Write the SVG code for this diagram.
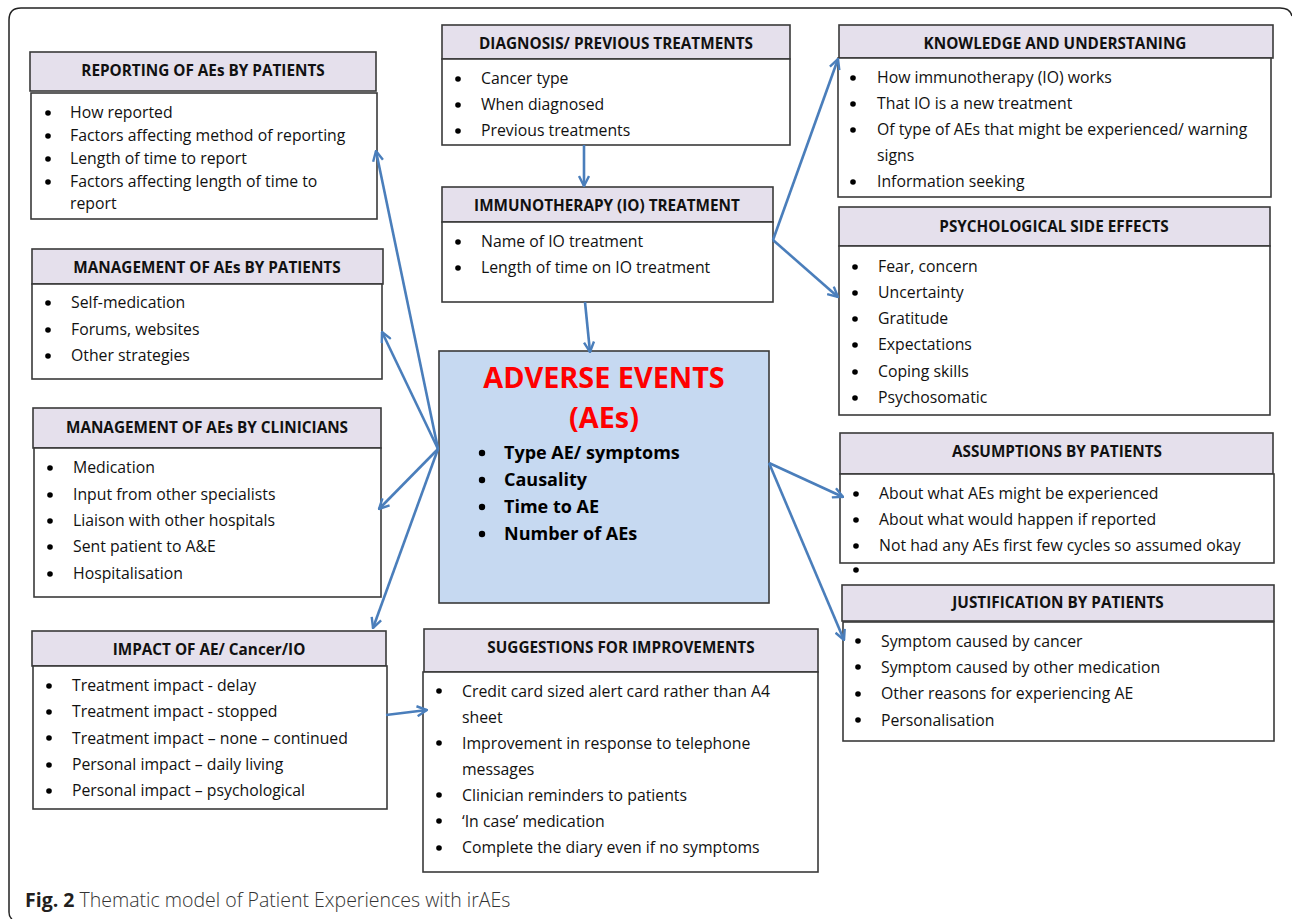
<svg xmlns="http://www.w3.org/2000/svg" width="1292" height="919" viewBox="0 0 1292 919">
<style>
.hd{fill:#e5e0ec;stroke:#3a3a3a;stroke-width:1.6}
.bd{fill:#ffffff;stroke:#3a3a3a;stroke-width:1.6}
.ht{font-family:"Open Sans","Liberation Sans",sans-serif;font-weight:bold;font-size:15.3px;fill:#111;text-anchor:middle}
.it{font-family:"Open Sans","Liberation Sans",sans-serif;font-size:15.8px;fill:#111}
.bu{fill:#000}
.cn{fill:none;stroke:#4a7ebb;stroke-width:2.6}
.ae{font-family:"Open Sans","Liberation Sans",sans-serif;font-weight:bold;fill:#ff0000;font-size:28.8px;text-anchor:middle}
.ai{font-family:"Open Sans","Liberation Sans",sans-serif;font-weight:bold;fill:#000;font-size:18px}
</style>
<defs>
<marker id="ah" viewBox="0 0 12 12" refX="11" refY="6" markerWidth="12" markerHeight="12" markerUnits="userSpaceOnUse" orient="auto">
<path d="M1,1 L11,6 L1,11" fill="none" stroke="#4a7ebb" stroke-width="2.4" stroke-linejoin="miter"/>
</marker>
</defs>
<rect width="1292" height="919" fill="#ffffff"/>
<path d="M9,912 L9,20 Q9,8 21,8 L1280,8 Q1290,8 1292,16" fill="none" stroke="#222" stroke-width="1.5"/>
<path d="M9,912 Q9,917 12,919" fill="none" stroke="#222" stroke-width="1.5"/>

<g id="reporting">
<rect class="hd" x="30" y="52" width="346" height="39"/>
<rect class="bd" x="31" y="93" width="346" height="126"/>
<text class="ht" x="203" y="76">REPORTING OF AEs BY PATIENTS</text>
<circle class="bu" cx="48" cy="113" r="2.8"/><text class="it" x="70" y="118">How reported</text>
<circle class="bu" cx="48" cy="136" r="2.8"/><text class="it" x="70" y="141">Factors affecting method of reporting</text>
<circle class="bu" cx="48" cy="159" r="2.8"/><text class="it" x="70" y="164">Length of time to report</text>
<circle class="bu" cx="48" cy="182" r="2.8"/><text class="it" x="70" y="187">Factors affecting length of time to</text>
<text class="it" x="70" y="209">report</text>
</g>

<g id="diagnosis">
<rect class="hd" x="442" y="25" width="348" height="34"/>
<rect class="bd" x="442" y="59" width="348" height="86"/>
<text class="ht" x="616" y="49">DIAGNOSIS/ PREVIOUS TREATMENTS</text>
<circle class="bu" cx="458" cy="79" r="2.8"/><text class="it" x="481" y="84">Cancer type</text>
<circle class="bu" cx="458" cy="105" r="2.8"/><text class="it" x="481" y="110">When diagnosed</text>
<circle class="bu" cx="458" cy="131" r="2.8"/><text class="it" x="481" y="136">Previous treatments</text>
</g>

<g id="io-treatment">
<rect class="hd" x="442" y="187" width="331" height="35"/>
<rect class="bd" x="442" y="222" width="331" height="80"/>
<text class="ht" x="607" y="211">IMMUNOTHERAPY (IO) TREATMENT</text>
<circle class="bu" cx="458" cy="242" r="2.8"/><text class="it" x="481" y="247">Name of IO treatment</text>
<circle class="bu" cx="458" cy="268" r="2.8"/><text class="it" x="481" y="273">Length of time on IO treatment</text>
</g>

<g id="knowledge">
<rect class="hd" x="839" y="25" width="434" height="33"/>
<rect class="bd" x="838" y="58" width="433" height="139"/>
<text class="ht" x="1055" y="49">KNOWLEDGE AND UNDERSTANING</text>
<circle class="bu" cx="853" cy="78" r="2.8"/><text class="it" x="877" y="83">How immunotherapy (IO) works</text>
<circle class="bu" cx="853" cy="104" r="2.8"/><text class="it" x="877" y="109">That IO is a new treatment</text>
<circle class="bu" cx="853" cy="130" r="2.8"/><text class="it" x="877" y="135">Of type of AEs that might be experienced/ warning</text>
<text class="it" x="877" y="161">signs</text>
<circle class="bu" cx="853" cy="182" r="2.8"/><text class="it" x="877" y="187">Information seeking</text>
</g>

<g id="psychological">
<rect class="hd" x="839" y="207" width="431" height="39"/>
<rect class="bd" x="839" y="246" width="431" height="169"/>
<text class="ht" x="1054" y="232">PSYCHOLOGICAL SIDE EFFECTS</text>
<circle class="bu" cx="855" cy="267" r="2.8"/><text class="it" x="878" y="272">Fear, concern</text>
<circle class="bu" cx="855" cy="293" r="2.8"/><text class="it" x="878" y="298">Uncertainty</text>
<circle class="bu" cx="855" cy="319" r="2.8"/><text class="it" x="878" y="324">Gratitude</text>
<circle class="bu" cx="855" cy="345" r="2.8"/><text class="it" x="878" y="350">Expectations</text>
<circle class="bu" cx="855" cy="372" r="2.8"/><text class="it" x="878" y="377">Coping skills</text>
<circle class="bu" cx="855" cy="398" r="2.8"/><text class="it" x="878" y="403">Psychosomatic</text>
</g>

<g id="mgmt-patients">
<rect class="hd" x="32" y="249" width="351" height="35"/>
<rect class="bd" x="32" y="284" width="350" height="95"/>
<text class="ht" x="207" y="273">MANAGEMENT OF AEs BY PATIENTS</text>
<circle class="bu" cx="48" cy="303" r="2.8"/><text class="it" x="71" y="308">Self-medication</text>
<circle class="bu" cx="48" cy="330" r="2.8"/><text class="it" x="71" y="335">Forums, websites</text>
<circle class="bu" cx="48" cy="356" r="2.8"/><text class="it" x="71" y="361">Other strategies</text>
</g>

<g id="mgmt-clinicians">
<rect class="hd" x="33" y="408" width="348" height="40"/>
<rect class="bd" x="34" y="448" width="347" height="149"/>
<text class="ht" x="207" y="433">MANAGEMENT OF AEs BY CLINICIANS</text>
<circle class="bu" cx="50" cy="468" r="2.8"/><text class="it" x="73" y="473">Medication</text>
<circle class="bu" cx="50" cy="495" r="2.8"/><text class="it" x="73" y="500">Input from other specialists</text>
<circle class="bu" cx="50" cy="521" r="2.8"/><text class="it" x="73" y="526">Liaison with other hospitals</text>
<circle class="bu" cx="50" cy="547" r="2.8"/><text class="it" x="73" y="552">Sent patient to A&amp;E</text>
<circle class="bu" cx="50" cy="574" r="2.8"/><text class="it" x="73" y="579">Hospitalisation</text>
</g>

<g id="adverse-events">
<rect x="439" y="351" width="330" height="252" fill="#c6d9f1" stroke="#3a3a3a" stroke-width="1.6"/>
<text class="ae" x="604" y="388">ADVERSE EVENTS</text>
<text class="ae" x="604" y="428">(AEs)</text>
<circle class="bu" cx="482" cy="453" r="3.2"/><text class="ai" x="504" y="459">Type AE/ symptoms</text>
<circle class="bu" cx="482" cy="480" r="3.2"/><text class="ai" x="504" y="486">Causality</text>
<circle class="bu" cx="482" cy="507" r="3.2"/><text class="ai" x="504" y="513">Time to AE</text>
<circle class="bu" cx="482" cy="534" r="3.2"/><text class="ai" x="504" y="540">Number of AEs</text>
</g>

<g id="assumptions">
<rect class="hd" x="840" y="433" width="433" height="41"/>
<rect class="bd" x="840" y="474" width="434" height="89"/>
<text class="ht" x="1057" y="457">ASSUMPTIONS BY PATIENTS</text>
<circle class="bu" cx="856" cy="494" r="2.8"/><text class="it" x="879" y="499">About what AEs might be experienced</text>
<circle class="bu" cx="856" cy="520" r="2.8"/><text class="it" x="879" y="525">About what would happen if reported</text>
<circle class="bu" cx="856" cy="546" r="2.8"/><text class="it" x="879" y="551">Not had any AEs first few cycles so assumed okay</text>
<circle class="bu" cx="856" cy="570" r="2.8"/>
</g>

<g id="justification">
<rect class="hd" x="842" y="585" width="432" height="36"/>
<rect class="bd" x="843" y="622" width="431" height="119"/>
<text class="ht" x="1058" y="608">JUSTIFICATION BY PATIENTS</text>
<circle class="bu" cx="858" cy="641" r="2.8"/><text class="it" x="881" y="647">Symptom caused by cancer</text>
<circle class="bu" cx="858" cy="667" r="2.8"/><text class="it" x="881" y="673">Symptom caused by other medication</text>
<circle class="bu" cx="858" cy="694" r="2.8"/><text class="it" x="881" y="699">Other reasons for experiencing AE</text>
<circle class="bu" cx="858" cy="720" r="2.8"/><text class="it" x="881" y="726">Personalisation</text>
</g>

<g id="impact">
<rect class="hd" x="32" y="631" width="354" height="35"/>
<rect class="bd" x="33" y="666" width="354" height="143"/>
<text class="ht" x="209" y="655">IMPACT OF AE/ Cancer/IO</text>
<circle class="bu" cx="49" cy="686" r="2.8"/><text class="it" x="72" y="691">Treatment impact - delay</text>
<circle class="bu" cx="49" cy="712" r="2.8"/><text class="it" x="72" y="717">Treatment impact - stopped</text>
<circle class="bu" cx="49" cy="738" r="2.8"/><text class="it" x="72" y="744">Treatment impact – none – continued</text>
<circle class="bu" cx="49" cy="765" r="2.8"/><text class="it" x="72" y="770">Personal impact – daily living</text>
<circle class="bu" cx="49" cy="791" r="2.8"/><text class="it" x="72" y="796">Personal impact – psychological</text>
</g>

<g id="suggestions">
<rect class="hd" x="424" y="629" width="394" height="43"/>
<rect class="bd" x="423" y="672" width="395" height="200"/>
<text class="ht" x="621" y="653">SUGGESTIONS FOR IMPROVEMENTS</text>
<circle class="bu" cx="439" cy="691" r="2.8"/><text class="it" x="462" y="697">Credit card sized alert card rather than A4</text>
<text class="it" x="462" y="723">sheet</text>
<circle class="bu" cx="439" cy="743" r="2.8"/><text class="it" x="462" y="749">Improvement in response to telephone</text>
<text class="it" x="462" y="775">messages</text>
<circle class="bu" cx="439" cy="795" r="2.8"/><text class="it" x="462" y="801">Clinician reminders to patients</text>
<circle class="bu" cx="439" cy="821" r="2.8"/><text class="it" x="462" y="827">‘In case’ medication</text>
<circle class="bu" cx="439" cy="848" r="2.8"/><text class="it" x="462" y="853">Complete the diary even if no symptoms</text>
</g>

<g id="connectors">
<path class="cn" d="M584,145 L584,186" marker-end="url(#ah)"/>
<path class="cn" d="M585,302 L590,352" marker-end="url(#ah)"/>
<path class="cn" d="M773,240 L838,59" marker-end="url(#ah)"/>
<path class="cn" d="M773,240 L838,297" marker-end="url(#ah)"/>
<path class="cn" d="M438,449 L376,151" marker-end="url(#ah)"/>
<path class="cn" d="M438,449 L382,332" marker-end="url(#ah)"/>
<path class="cn" d="M438,449 L379,509" marker-end="url(#ah)"/>
<path class="cn" d="M438,449 L373,628" marker-end="url(#ah)"/>
<path class="cn" d="M769,463 L843,497" marker-end="url(#ah)"/>
<path class="cn" d="M769,463 L844,640" marker-end="url(#ah)"/>
<path class="cn" d="M386,715 L427,710" marker-end="url(#ah)"/>
</g>

<text x="25" y="907" font-family="'Open Sans','Liberation Sans',sans-serif" font-size="19.5" fill="#333"><tspan font-weight="bold" fill="#231f20">Fig. 2</tspan> <tspan font-weight="300">Thematic model of Patient Experiences with irAEs</tspan></text>
</svg>
